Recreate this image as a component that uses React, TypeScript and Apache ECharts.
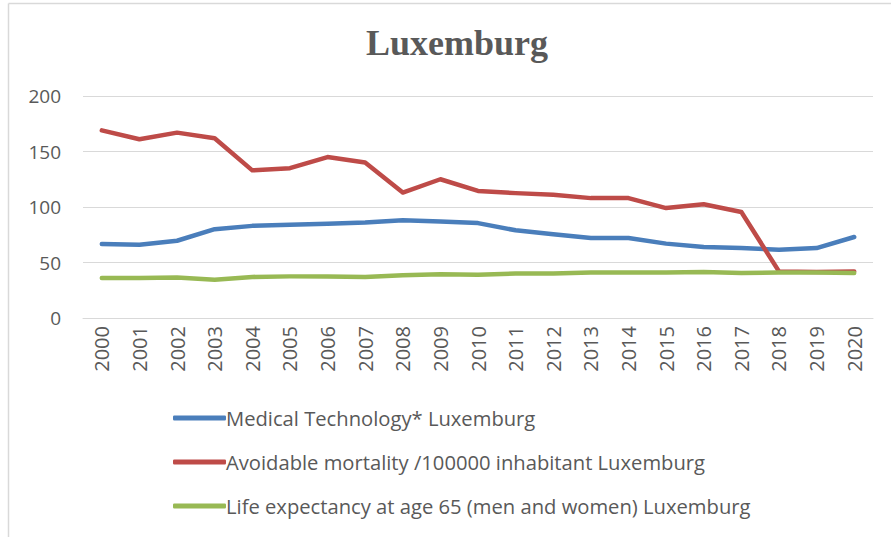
import React, { useEffect, useRef } from "react";
import * as echarts from "echarts";

const years = ["2000","2001","2002","2003","2004","2005","2006","2007","2008","2009","2010","2011","2012","2013","2014","2015","2016","2017","2018","2019","2020"];
const medicalTechnology = [66.7, 66, 69.6, 80, 83, 84, 85, 86, 88, 87, 85.5, 79, 75.5, 72, 72, 67, 64, 63, 61.5, 63, 73];
const avoidableMortality = [169, 161, 167, 162, 133, 135, 145, 140, 113, 125, 114.5, 112.5, 111, 108, 108, 99, 102.5, 95.5, 42, 41.5, 42];
const lifeExpectancy = [36, 36, 36.5, 34.5, 37, 37.5, 37.5, 37, 38.5, 39.5, 39, 40, 40, 41, 41, 41, 41.5, 40.5, 41, 41, 40.5];
const yTicks = { min: 0, max: 200, interval: 50 };
const seriesNames = [
  "Medical Technology* Luxemburg",
  "Avoidable mortality /100000 inhabitant Luxemburg",
  "Life expectancy at age 65 (men and women) Luxemburg",
];
const colors = ["#4A7EBB", "#BE4B48", "#98B954"];

export default function App() {
  const ref = useRef<HTMLDivElement>(null);
  useEffect(() => {
    if (!ref.current) return;
    const chart = echarts.init(ref.current, undefined, { renderer: "svg" });
    const font = "Open Sans";
    const dataSets = [medicalTechnology, avoidableMortality, lifeExpectancy];
    chart.setOption({
      animation: false,
      backgroundColor: "#ffffff",
      title: {
        text: "Luxemburg",
        left: 361,
        top: 20,
        textStyle: {
          fontFamily: "Liberation Serif",
          fontWeight: "bold",
          fontSize: 36,
          color: "#595959",
        },
      },
      graphic: [
        { type: "line", shape: { x1: 8.5, y1: 3.5, x2: 8.5, y2: 537 }, style: { stroke: "#d9d9d9", lineWidth: 1.5 } },
        { type: "line", shape: { x1: 8.5, y1: 3.5, x2: 891, y2: 3.5 }, style: { stroke: "#d9d9d9", lineWidth: 1.5 } },
      ],
      legend: {
        orient: "vertical",
        left: 168,
        top: 403,
        itemWidth: 53,
        itemHeight: 5,
        itemGap: 24,
        icon: "roundRect",
        data: seriesNames,
        textStyle: { fontFamily: font, fontSize: 20.2, color: "#595959", padding: [0, 0, 0, -5] },
      },
      grid: { left: 83, right: 18, top: 96, bottom: 219, containLabel: false },
      xAxis: {
        type: "category",
        data: years,
        boundaryGap: true,
        axisLine: { show: true, lineStyle: { color: "#d9d9d9", width: 1 } },
        axisTick: { show: false },
        axisLabel: { rotate: 90, margin: 8, fontFamily: font, fontSize: 20, color: "#595959" },
      },
      yAxis: {
        type: "value",
        min: yTicks.min,
        max: yTicks.max,
        interval: yTicks.interval,
        axisLine: { show: false },
        axisTick: { show: false },
        splitLine: { lineStyle: { color: "#d9d9d9", width: 1 } },
        axisLabel: { margin: 22, fontFamily: font, fontSize: 19, color: "#595959" },
      },
      series: seriesNames.map((name, i) => ({
        name,
        type: "line",
        data: dataSets[i],
        symbol: "none",
        lineStyle: { color: colors[i], width: 4.5, cap: "round", join: "round" },
        itemStyle: { color: colors[i] },
      })),
    });
    return () => chart.dispose();
  }, []);
  return <div ref={ref} style={{ position: "fixed", left: 0, top: 0, width: 891, height: 537 }} />;
}
